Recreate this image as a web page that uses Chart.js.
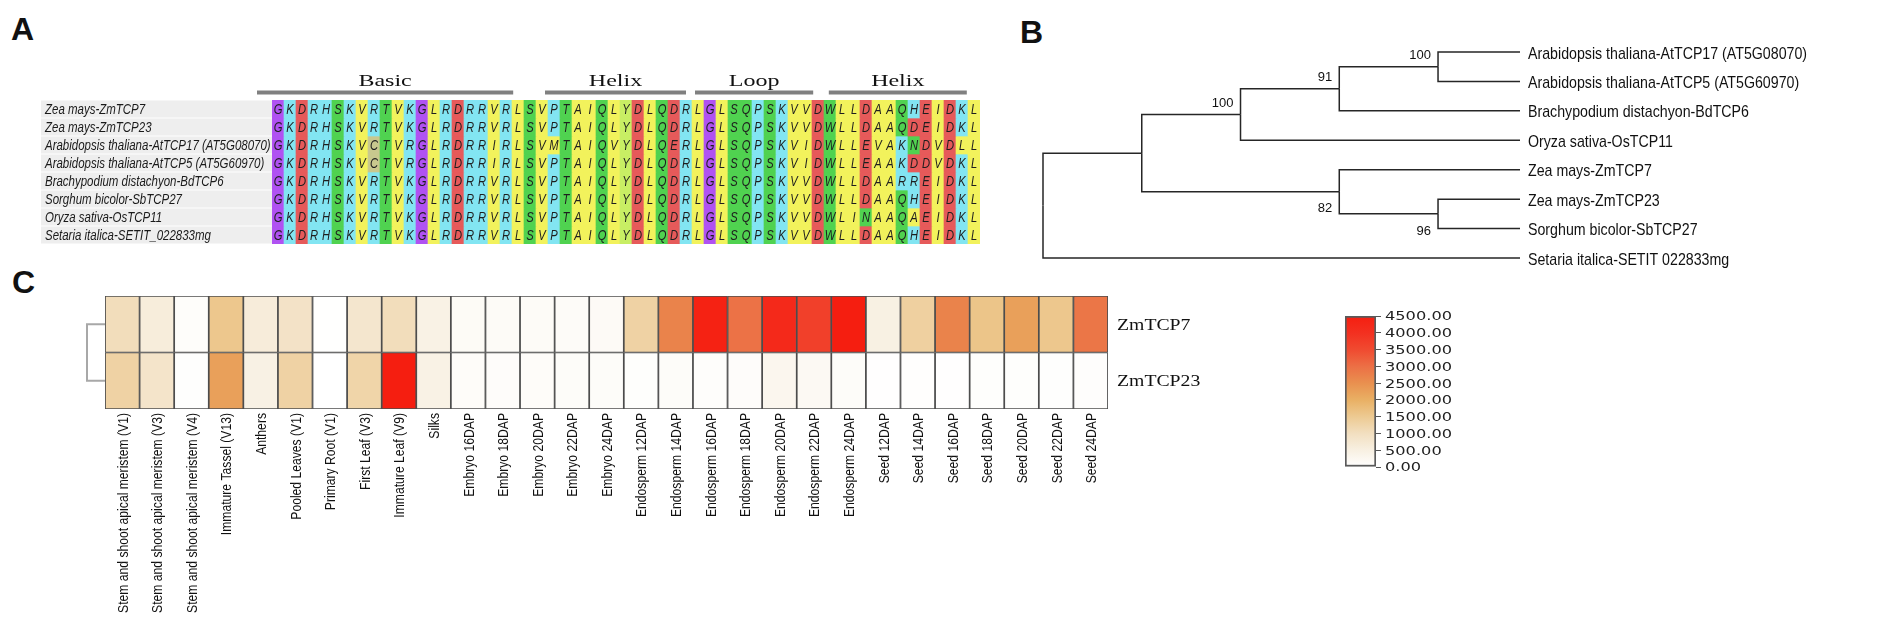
<!DOCTYPE html>
<html>
<head>
<meta charset="utf-8">
<script src="https://cdn.jsdelivr.net/npm/chart.js@4.4.0/dist/chart.umd.min.js"></script>
<style>
body{margin:0;background:#fff;width:1904px;height:621px;overflow:hidden;position:relative}
canvas{position:absolute}
.panel{position:absolute;font:bold 32px 'Liberation Sans',Arial,sans-serif;line-height:32px;color:#111}
</style>
</head>
<body>
<div class="panel" style="left:11px;top:13px">A</div>
<div class="panel" style="left:1020px;top:16px">B</div>
<div class="panel" style="left:12px;top:266px">C</div>
<canvas id="alignChart" width="1000" height="220" style="left:0;top:40px"></canvas>
<canvas id="treeChart" width="904" height="250" style="left:1000px;top:30px"></canvas>
<canvas id="heatChart" width="1300" height="341" style="left:0;top:280px"></canvas>
<canvas id="scaleChart" width="200" height="181" style="left:1340px;top:300px"></canvas>
<script>
"use strict"

// panel A - alignment
const alignNames = [
  'Zea mays-ZmTCP7',
  'Zea mays-ZmTCP23',
  'Arabidopsis thaliana-AtTCP17 (AT5G08070)',
  'Arabidopsis thaliana-AtTCP5 (AT5G60970)',
  'Brachypodium distachyon-BdTCP6',
  'Sorghum bicolor-SbTCP27',
  'Oryza sativa-OsTCP11',
  'Setaria italica-SETIT_022833mg'
];
const alignSeqs = [
  'GKDRHSKVRTVKGLRDRRVRLSVPTAIQLYDLQDRLGLSQPSKVVDWLLDAAQHEIDKL',
  'GKDRHSKVRTVKGLRDRRVRLSVPTAIQLYDLQDRLGLSQPSKVVDWLLDAAQDEIDKL',
  'GKDRHSKVCTVRGLRDRRIRLSVMTAIQVYDLQERLGLSQPSKVIDWLLEVAKNDVDLL',
  'GKDRHSKVCTVRGLRDRRIRLSVPTAIQLYDLQDRLGLSQPSKVIDWLLEAAKDDVDKL',
  'GKDRHSKVRTVKGLRDRRVRLSVPTAIQLYDLQDRLGLSQPSKVVDWLLDAARREIDKL',
  'GKDRHSKVRTVKGLRDRRVRLSVPTAIQLYDLQDRLGLSQPSKVVDWLLDAAQHEIDKL',
  'GKDRHSKVRTVKGLRDRRVRLSVPTAIQLYDLQDRLGLSQPSKVVDWLINAAQAEIDKL',
  'GKDRHSKVRTVKGLRDRRVRLSVPTAIQLYDLQDRLGLSQPSKVVDWLLDAAQHEIDKL'
];
const regionNames = ['Basic', 'Helix', 'Loop', 'Helix'];
const regionStart = [-1.25, 22.75, 35.25, 46.4];
const regionEnd = [20.1, 34.5, 45.1, 57.9];

// panel B - tree
const leafNames = [
  'Arabidopsis thaliana-AtTCP17 (AT5G08070)',
  'Arabidopsis thaliana-AtTCP5 (AT5G60970)',
  'Brachypodium distachyon-BdTCP6',
  'Oryza sativa-OsTCP11',
  'Zea mays-ZmTCP7',
  'Zea mays-ZmTCP23',
  'Sorghum bicolor-SbTCP27',
  'Setaria italica-SETIT 022833mg'
];
const nodeDepth = [0, 1, 2, 3, 4, 3, 4];
const nodeKids = [['n1', 'L7'], ['n2', 'n5'], ['n3', 'L3'], ['n4', 'L2'], ['L0', 'L1'], ['L4', 'n6'], ['L5', 'L6']];
const nodeSupport = [null, null, 100, 91, 100, 82, 96];
const leafDepth = 4.83;

// panel C - expression heatmap
const tissues = [
  'Stem and shoot apical meristem (V1)', 'Stem and shoot apical meristem (V3)', 'Stem and shoot apical meristem (V4)',
  'Immature Tassel (V13)', 'Anthers', 'Pooled Leaves (V1)', 'Primary Root (V1)', 'First Leaf (V3)', 'Immature Leaf (V9)',
  'Silks', 'Embryo 16DAP', 'Embryo 18DAP', 'Embryo 20DAP', 'Embryo 22DAP', 'Embryo 24DAP',
  'Endosperm 12DAP', 'Endosperm 14DAP', 'Endosperm 16DAP', 'Endosperm 18DAP', 'Endosperm 20DAP', 'Endosperm 22DAP', 'Endosperm 24DAP',
  'Seed 12DAP', 'Seed 14DAP', 'Seed 16DAP', 'Seed 18DAP', 'Seed 20DAP', 'Seed 22DAP', 'Seed 24DAP'
];
const genes = ['ZmTCP7', 'ZmTCP23'];
const zmTCP7 = [1050, 600, 80, 1550, 620, 900, 10, 800, 1050, 450, 150, 130, 140, 120, 160,
  1300, 2700, 4400, 2950, 4200, 3700, 4500, 480, 1350, 2700, 1600, 2250, 1550, 2900];
const zmTCP23 = [1300, 850, 40, 2250, 470, 1300, 0, 1250, 4500, 450, 100, 90, 100, 110, 110,
  50, 110, 70, 90, 300, 200, 110, 20, 30, 20, 50, 50, 40, 60];
const heatMax = 4500;

const resColors = {
  G: '#b052f2', K: '#82e5f2', R: '#82e5f2', H: '#82e5f2', P: '#82e5f2',
  D: '#e65a5a', E: '#e65a5a', S: '#50d250', T: '#50d250', Q: '#50d250', N: '#50d250', W: '#50d250',
  A: '#f2f25c', I: '#f2f25c', L: '#f2f25c', V: '#f2f25c', M: '#f2f25c', Y: '#c8ee64', C: '#c8c88e'
};
const heatStops = [[0, '#ffffff'], [500, '#f8f0e2'], [1000, '#f2dfc0'], [1500, '#edca92'], [2000, '#e9b064'],
  [2500, '#e9904f'], [3000, '#ec6f45'], [3500, '#f04a30'], [4000, '#f33020'], [4500, '#f51e10']];

function mix(c1, c2, t) {
  const p = h => [1, 3, 5].map(k => parseInt(h.substr(k, 2), 16));
  const a = p(c1), b = p(c2);
  return 'rgb(' + a.map((x, i) => Math.round(x + (b[i] - x) * t)).join(',') + ')';
}

function heatColor(v) {
  for (let i = 1; i < heatStops.length; i++) {
    if (v <= heatStops[i][0]) {
      const a = heatStops[i - 1], b = heatStops[i];
      return mix(a[1], b[1], (v - a[0]) / (b[0] - a[0]));
    }
  }
  return heatStops[heatStops.length - 1][1];
}

function squeezeText(ctx, text, x, y, sx) {
  ctx.save();
  ctx.translate(x, y);
  ctx.scale(sx, 1);
  ctx.fillText(text, 0, 0);
  ctx.restore();
}

const alignDecor = {
  id: 'alignDecor',
  beforeDatasetsDraw(chart) {
    const ctx = chart.ctx, y = chart.scales.y, area = chart.chartArea;
    ctx.save();
    ctx.font = 'italic 14px "Liberation Sans", Arial, sans-serif';
    alignNames.forEach((name, r) => {
      const top = y.getPixelForValue(r), bot = y.getPixelForValue(r + 1);
      ctx.fillStyle = '#eeeeee';
      ctx.fillRect(41, top + 0.5, area.left - 41, bot - top - 1);
      ctx.fillStyle = '#1a1a1a';
      squeezeText(ctx, name, 45, (top + bot) / 2 + 5, 0.82);
    });
    ctx.restore();
  },
  afterDatasetsDraw(chart) {
    const ctx = chart.ctx, x = chart.scales.x, area = chart.chartArea;
    ctx.save();
    ctx.font = 'italic 14px "Liberation Sans", Arial, sans-serif';
    ctx.textAlign = 'center';
    ctx.fillStyle = '#1e1e1e';
    chart.data.datasets.forEach((ds, r) => {
      chart.getDatasetMeta(r).data.forEach((bar, i) => {
        squeezeText(ctx, alignSeqs[r][i], bar.x, (bar.y + bar.base) / 2 + 5, 0.8);
      });
    });
    const colW = x.getPixelForValue(1) - x.getPixelForValue(0);
    const edge = v => x.getPixelForValue(0) - colW / 2 + v * colW;
    ctx.font = '16px "Liberation Serif", "Times New Roman", serif';
    regionNames.forEach((name, k) => {
      const x0 = edge(regionStart[k]), x1 = edge(regionEnd[k]);
      ctx.fillStyle = '#808080';
      ctx.fillRect(x0, area.top - 9.5, x1 - x0, 4);
      ctx.fillStyle = '#111';
      squeezeText(ctx, name, (x0 + x1) / 2, area.top - 14, 1.5);
    });
    ctx.restore();
  }
};

let alignCtx = document.getElementById('alignChart').getContext('2d');
let alignChart = new Chart(alignCtx, {
  type: 'bar',
  data: {
    labels: alignSeqs[0].split('').map((c, i) => i + 1),
    datasets: alignSeqs.map((seq, r) => ({
      label: alignNames[r],
      data: seq.split('').map(() => [r, r + 1]),
      backgroundColor: seq.split('').map(c => resColors[c] || '#ffffff'),
      borderWidth: 0,
      grouped: false,
      barPercentage: 1,
      categoryPercentage: 1
    }))
  },
  options: {
    responsive: false,
    animation: false,
    layout: {padding: {left: 272, right: 20, top: 60, bottom: 16}},
    plugins: {legend: {display: false}, tooltip: {enabled: false}},
    scales: {
      x: {display: false},
      y: {display: false, min: 0, max: 8, reverse: true}
    }
  },
  plugins: [alignDecor]
});

// tree layout from topology
function nodePos(id) {
  if (id[0] === 'L') return {x: leafDepth, y: +id.slice(1)};
  const k = +id.slice(1);
  const a = nodePos(nodeKids[k][0]), b = nodePos(nodeKids[k][1]);
  return {x: nodeDepth[k], y: (a.y + b.y) / 2};
}

const treeEdges = [];
nodeKids.forEach((kids, k) => {
  const p = nodePos('n' + k);
  kids.forEach(c => {
    const q = nodePos(c);
    treeEdges.push([{x: p.x, y: p.y}, {x: p.x, y: q.y}, {x: q.x, y: q.y}]);
  });
});

const treeDecor = {
  id: 'treeDecor',
  afterDatasetsDraw(chart) {
    const ctx = chart.ctx, x = chart.scales.x, y = chart.scales.y;
    ctx.save();
    ctx.fillStyle = '#111';
    ctx.font = '17px "Liberation Sans", Arial, sans-serif';
    leafNames.forEach((name, i) => {
      squeezeText(ctx, name, chart.chartArea.right + 8, y.getPixelForValue(i) + 6.5, 0.835);
    });
    ctx.font = '13px "Liberation Sans", Arial, sans-serif';
    ctx.textAlign = 'right';
    nodeSupport.forEach((s, k) => {
      if (s === null) return;
      const p = nodePos('n' + k);
      const first = nodeKids.some(kids => kids[0] === 'n' + k);
      ctx.fillText(String(s), x.getPixelForValue(p.x) - 7, y.getPixelForValue(p.y) + (first ? -12 : 16) + 4.7);
    });
    ctx.restore();
  }
};

let treeCtx = document.getElementById('treeChart').getContext('2d');
let treeChart = new Chart(treeCtx, {
  type: 'scatter',
  data: {
    datasets: treeEdges.map(pts => ({
      data: pts,
      showLine: true,
      borderColor: '#262626',
      borderWidth: 1.5,
      pointRadius: 0,
      tension: 0,
      clip: 5
    }))
  },
  options: {
    responsive: false,
    animation: false,
    layout: {padding: {left: 43, right: 384, top: 22, bottom: 22}},
    plugins: {legend: {display: false}, tooltip: {enabled: false}},
    scales: {
      x: {type: 'linear', display: false, min: 0, max: leafDepth},
      y: {type: 'linear', display: false, min: 0, max: leafNames.length - 1, reverse: true}
    }
  },
  plugins: [treeDecor]
});

const heatDecor = {
  id: 'heatDecor',
  afterDatasetsDraw(chart) {
    const ctx = chart.ctx, x = chart.scales.x, y = chart.scales.y, area = chart.chartArea;
    ctx.save();
    // dendrogram of the two genes
    const y0 = y.getPixelForValue(0.5), y1 = y.getPixelForValue(1.5);
    ctx.strokeStyle = '#a8a8a8';
    ctx.lineWidth = 2;
    ctx.beginPath();
    ctx.moveTo(area.left, y0);
    ctx.lineTo(area.left - 18, y0);
    ctx.lineTo(area.left - 18, y1);
    ctx.lineTo(area.left, y1);
    ctx.stroke();
    ctx.fillStyle = '#111';
    ctx.font = '17px "Liberation Serif", "Times New Roman", serif';
    genes.forEach((g, r) => {
      squeezeText(ctx, g, area.right + 9, y.getPixelForValue(r + 0.5) + 5.6, 1.16);
    });
    ctx.font = '15px "Liberation Sans", Arial, sans-serif';
    ctx.textAlign = 'right';
    tissues.forEach((t, i) => {
      ctx.save();
      ctx.translate(x.getPixelForValue(i), area.bottom + 4);
      ctx.rotate(-Math.PI / 2);
      ctx.scale(0.81, 1);
      ctx.fillText(t, 0, 5.4);
      ctx.restore();
    });
    ctx.restore();
  }
};

let heatCtx = document.getElementById('heatChart').getContext('2d');
let heatChart = new Chart(heatCtx, {
  type: 'bar',
  data: {
    labels: tissues,
    datasets: [zmTCP7, zmTCP23].map((vals, r) => ({
      label: genes[r],
      data: vals.map(() => [r, r + 1]),
      backgroundColor: vals.map(heatColor),
      borderColor: '#4d4d4d',
      borderWidth: 1.2,
      borderSkipped: false,
      grouped: false,
      barPercentage: 1,
      categoryPercentage: 1
    }))
  },
  options: {
    responsive: false,
    animation: false,
    layout: {padding: {left: 105, right: 192, top: 16, bottom: 212}},
    plugins: {legend: {display: false}, tooltip: {enabled: false}},
    scales: {
      x: {display: false},
      y: {display: false, min: 0, max: 2, reverse: true}
    }
  },
  plugins: [heatDecor]
});

const scaleLabels = {
  id: 'scaleLabels',
  afterDraw(chart) {
    const ctx = chart.ctx, y = chart.scales.y;
    ctx.save();
    ctx.fillStyle = '#222';
    ctx.font = '12px "DejaVu Sans", Verdana, sans-serif';
    y.ticks.forEach(t => {
      squeezeText(ctx, t.value.toFixed(2), chart.chartArea.right + 9, y.getPixelForValue(t.value) + 4.4, 1.35);
    });
    ctx.restore();
  }
};

let scaleCtx = document.getElementById('scaleChart').getContext('2d');
let scaleChart = new Chart(scaleCtx, {
  type: 'bar',
  data: {
    labels: [''],
    datasets: [{
      data: [[0, heatMax]],
      backgroundColor: function(c) {
        const area = c.chart.chartArea;
        if (!area) return null;
        const g = c.chart.ctx.createLinearGradient(0, area.bottom, 0, area.top);
        heatStops.forEach(s => g.addColorStop(s[0] / heatMax, s[1]));
        return g;
      },
      borderColor: '#5a5a5a',
      borderWidth: 2,
      borderSkipped: false,
      barPercentage: 1,
      categoryPercentage: 1
    }]
  },
  options: {
    responsive: false,
    animation: false,
    layout: {padding: {left: 5, right: 0, top: 16, bottom: 14}},
    plugins: {legend: {display: false}, tooltip: {enabled: false}},
    scales: {
      x: {display: false},
      y: {
        position: 'right',
        min: 0,
        max: heatMax,
        afterFit: s => { s.width = 164 },
        ticks: {stepSize: 500, autoSkip: false, display: false},
        grid: {drawOnChartArea: false, drawTicks: true, tickLength: 5, color: '#555'},
        border: {display: false}
      }
    }
  },
  plugins: [scaleLabels]
});
</script>
</body>
</html>
